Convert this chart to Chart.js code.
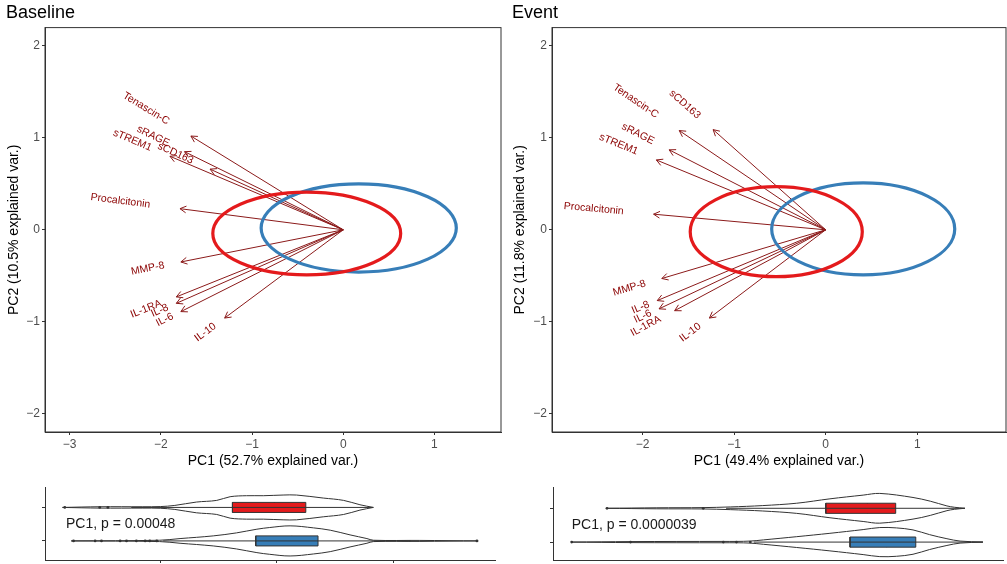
<!DOCTYPE html>
<html>
<head>
<meta charset="utf-8">
<title>PCA biplots</title>
<script src="https://cdn.jsdelivr.net/npm/chart.js@4.4.1/dist/chart.umd.min.js"></script>
<style>
  body { margin: 0; background: #fff; }
  .panel { position: absolute; }
</style>
</head>
<body>
<div class="panel" style="left:0;top:0"><canvas id="biplotBaseline" width="503" height="472"></canvas></div>
<div class="panel" style="left:503px;top:0"><canvas id="biplotEvent" width="504" height="472"></canvas></div>
<div class="panel" style="left:0;top:480px"><canvas id="violinBaseline" width="503" height="84"></canvas></div>
<div class="panel" style="left:503px;top:480px"><canvas id="violinEvent" width="504" height="84"></canvas></div>
<script>
// ---- variable loadings (arrow tips) ----
const variables = ['Tenascin-C', 'sRAGE', 'sTREM1', 'sCD163', 'Procalcitonin', 'MMP-8', 'IL-1RA', 'IL-8', 'IL-6', 'IL-10'];
const baselinePC1 = [-1.67, -1.74, -1.90, -1.46, -1.79, -1.78, -1.83, -1.83, -1.78, -1.30];
const baselinePC2 = [1.02, 0.85, 0.80, 0.66, 0.23, -0.35, -0.73, -0.80, -0.89, -0.96];
const eventPC1 = [-1.60, -1.71, -1.85, -1.23, -1.88, -1.79, -1.65, -1.84, -1.82, -1.27];
const eventPC2 = [1.08, 0.87, 0.76, 1.09, 0.17, -0.53, -0.88, -0.77, -0.86, -0.96];

// ---- group ellipses: [centre PC1, centre PC2, radius PC1, radius PC2] ----
const baselineEllipseRed = [-0.40, -0.04, 1.03, 0.45];
const baselineEllipseBlue = [0.17, 0.02, 1.07, 0.48];
const eventEllipseRed = [-0.54, -0.02, 0.94, 0.49];
const eventEllipseBlue = [0.41, 0.01, 1.00, 0.50];

// ---- axis ticks ----
const biplotYTicks = [-2, -1, 0, 1, 2];
const baselineXTicks = [-3, -2, -1, 0, 1];
const eventXTicks = [-2, -1, 0, 1];

// ---- PC1 violins: profile positions and half widths, box [q1, median, q3], whiskers, outliers ----
const baseRedX = [-3.68, -3.04, -2.3, -2.0, -1.75, -1.38, -1.03, -0.80, -0.52, -0.23, 0.11, 0.34, 0.80, 1.15, 1.43, 1.66];
const baseRedW = [0, 0.02, 0.02, 0.025, 0.06, 0.16, 0.21, 0.32, 0.35, 0.35, 0.37, 0.37, 0.28, 0.21, 0.08, 0];
const baseRedBox = [-0.76, -0.04, 0.50];
const baseRedWhisk = [-2.5, 1.66];
const baseRedOut = [-3.64, -3.04, -2.9];

const baseBlueX = [-3.53, -2.01, -1.66, -1.09, -0.69, -0.34, -0.12, 0.23, 0.63, 0.92, 1.26, 1.55, 1.66, 2.46, 3.46];
const baseBlueW = [0, 0.02, 0.07, 0.15, 0.24, 0.35, 0.40, 0.45, 0.39, 0.32, 0.18, 0.07, 0.02, 0.015, 0];
const baseBlueBox = [-0.36, 0.26, 0.71];
const baseBlueWhisk = [-1.95, 2.3];
const baseBlueOut = [-3.49, -3.12, -3.01, -2.69, -2.58, -2.41, -2.26, -2.18, -2.06, 3.44];

const evRedX = [-3.22, -2.5, -1.83, -1.44, -0.97, -0.48, 0.0, 0.48, 0.72, 1.2, 1.45, 1.69, 1.8, 1.95];
const evRedW = [0, 0.015, 0.02, 0.04, 0.08, 0.15, 0.28, 0.39, 0.44, 0.32, 0.21, 0.07, 0.03, 0];
const evRedBox = [-0.06, 0.54, 0.95];
const evRedWhisk = [-1.5, 1.95];
const evRedOut = [-3.22, -1.83];

const evBlueX = [-3.73, -2.88, -1.54, -1.35, -1.15, -0.96, -0.48, 0.0, 0.48, 0.72, 0.96, 1.20, 1.44, 1.69, 1.88, 2.21];
const evBlueW = [0, 0.015, 0.02, 0.02, 0.03, 0.065, 0.16, 0.26, 0.37, 0.43, 0.42, 0.36, 0.22, 0.1, 0.03, 0];
const evBlueBox = [0.29, 0.82, 1.24];
const evBlueWhisk = [-1.1, 2.21];
const evBlueOut = [-3.73, -2.88, -1.54, -1.35, -1.15];

const baselineXTicksViolin = [-2, 0, 2];

// ---- styles ----
const FONT = "'Liberation Sans', Arial, Helvetica, sans-serif";
const RED = '#E41A1C';
const BLUE = '#377EB8';
const ARROW = '#8B1A1A';
const LABEL = '#8B0000';
const AXIS = '#333333';
const TICK_TEXT = '#4D4D4D';
const HEAD = 7;            // arrowhead length, px
const BOX_HALF = 0.15;     // box half height in row units

Chart.defaults.font.family = FONT;
Chart.defaults.animation = false;

const minus = v => (v < 0 ? '\u2212' + Math.abs(v) : String(v));

// arrowheads, ellipses and rotated variable names
function biplotDecor(ellipses) {
  return {
    id: 'biplotDecor',
    afterDatasetsDraw(chart) {
      const { ctx, scales: { x, y } } = chart;
      ctx.save();
      const tips = chart.data.datasets.map(ds => {
        const x0 = x.getPixelForValue(ds.data[0].x), y0 = y.getPixelForValue(ds.data[0].y);
        const x1 = x.getPixelForValue(ds.data[1].x), y1 = y.getPixelForValue(ds.data[1].y);
        return { x1, y1, ang: Math.atan2(y1 - y0, x1 - x0), label: ds.label };
      });
      ctx.strokeStyle = ARROW;
      ctx.lineWidth = 1;
      tips.forEach(t => {
        ctx.beginPath();
        ctx.moveTo(t.x1 - HEAD * Math.cos(t.ang - 0.5), t.y1 - HEAD * Math.sin(t.ang - 0.5));
        ctx.lineTo(t.x1, t.y1);
        ctx.lineTo(t.x1 - HEAD * Math.cos(t.ang + 0.5), t.y1 - HEAD * Math.sin(t.ang + 0.5));
        ctx.stroke();
      });
      // normal-data ellipses per group
      ctx.lineWidth = 3.2;
      ellipses.forEach(e => {
        const cx = x.getPixelForValue(e.p[0]), cy = y.getPixelForValue(e.p[1]);
        const rx = Math.abs(x.getPixelForValue(e.p[0] + e.p[2]) - cx);
        const ry = Math.abs(y.getPixelForValue(e.p[1] + e.p[3]) - cy);
        ctx.strokeStyle = e.color;
        ctx.beginPath();
        ctx.ellipse(cx, cy, rx, ry, 0, 0, Math.PI * 2);
        ctx.stroke();
      });
      // names sit beyond the tip, rotated along the arrow
      ctx.font = '10.5px ' + FONT;
      ctx.fillStyle = LABEL;
      ctx.textAlign = 'center';
      ctx.textBaseline = 'middle';
      tips.forEach(t => {
        const w = ctx.measureText(t.label).width;
        const dx = Math.cos(t.ang), dy = Math.sin(t.ang);
        ctx.save();
        ctx.translate(t.x1 + w * dx, t.y1 + w * dy);
        ctx.rotate(dx < 0 ? t.ang + Math.PI : t.ang);
        ctx.fillText(t.label, 0, 0);
        ctx.restore();
      });
      ctx.restore();
    },
    afterDraw(chart) {
      const { ctx, chartArea: a } = chart;
      ctx.save();
      ctx.strokeStyle = AXIS;
      ctx.lineWidth = 1;
      ctx.strokeRect(a.left, a.top, a.right - a.left, a.bottom - a.top);
      ctx.restore();
    }
  };
}

function biplot(id, cfg) {
  const datasets = variables.map((name, i) => ({
    label: name,
    data: [{ x: 0, y: 0 }, { x: cfg.pc1[i], y: cfg.pc2[i] }],
    showLine: true,
    borderColor: ARROW,
    borderWidth: 1,
    pointRadius: 0
  }));
  new Chart(document.getElementById(id), {
    type: 'scatter',
    data: { datasets },
    options: {
      responsive: false,
      layout: { padding: { left: cfg.padLeft, right: cfg.padRight, top: 0, bottom: 0 } },
      plugins: {
        legend: { display: false },
        tooltip: { enabled: false },
        title: {
          display: true, text: cfg.title, align: 'start', color: '#000',
          font: { size: 18, weight: 'normal' }, padding: { top: 2, bottom: 4 }
        }
      },
      scales: {
        x: {
          type: 'linear', min: cfg.xMin, max: cfg.xMax,
          afterBuildTicks: s => { s.ticks = cfg.xTicks.map(v => ({ value: v })); },
          ticks: { color: TICK_TEXT, font: { size: 12 }, padding: 2, callback: minus },
          grid: { drawOnChartArea: false, tickLength: 3, color: AXIS },
          border: { color: AXIS },
          title: { display: true, text: cfg.xTitle, color: '#000', font: { size: 14 }, padding: { top: 0, bottom: 2 } },
          afterFit: s => { s.height = 40; }
        },
        y: {
          type: 'linear', min: -2.2, max: 2.2,
          afterBuildTicks: s => { s.ticks = biplotYTicks.map(v => ({ value: v })); },
          ticks: { color: TICK_TEXT, font: { size: 12 }, padding: 2, callback: minus },
          grid: { drawOnChartArea: false, tickLength: 3, color: AXIS },
          border: { color: AXIS },
          title: { display: true, text: cfg.yTitle, color: '#000', font: { size: 14 }, padding: { top: 0, bottom: 0 } },
          afterFit: s => { s.width = cfg.yWidth; }
        }
      }
    },
    plugins: [biplotDecor(cfg.ellipses)]
  });
}

biplot('biplotBaseline', {
  title: 'Baseline', pc1: baselinePC1, pc2: baselinePC2,
  xMin: -3.27, xMax: 1.73, xTicks: baselineXTicks,
  xTitle: 'PC1 (52.7% explained var.)', yTitle: 'PC2 (10.5% explained var.)',
  padLeft: 6, yWidth: 39, padRight: 2,
  ellipses: [{ p: baselineEllipseBlue, color: BLUE }, { p: baselineEllipseRed, color: RED }]
});

biplot('biplotEvent', {
  title: 'Event', pc1: eventPC1, pc2: eventPC2,
  xMin: -2.99, xMax: 1.97, xTicks: eventXTicks,
  xTitle: 'PC1 (49.4% explained var.)', yTitle: 'PC2 (11.8% explained var.)',
  padLeft: 9, yWidth: 40, padRight: 1,
  ellipses: [{ p: eventEllipseBlue, color: BLUE }, { p: eventEllipseRed, color: RED }]
});

// one horizontal violin + boxplot row
function violinRow(row, xs, ws, box, whisk, out, color) {
  const outline = xs.map((v, i) => ({ x: v, y: row + ws[i] }))
    .concat(xs.map((v, i) => ({ x: v, y: row - ws[i] })).reverse());
  outline.push(outline[0]);
  const [q1, med, q3] = box;
  return [
    { data: outline, borderColor: AXIS, borderWidth: 1, tension: 0.35, fill: false, pointRadius: 0 },
    { data: [{ x: whisk[0], y: row }, { x: whisk[1], y: row }], borderColor: AXIS, borderWidth: 1, pointRadius: 0 },
    {
      data: [{ x: q1, y: row - BOX_HALF }, { x: q3, y: row - BOX_HALF }, { x: q3, y: row + BOX_HALF },
             { x: q1, y: row + BOX_HALF }, { x: q1, y: row - BOX_HALF }],
      borderColor: AXIS, borderWidth: 1, backgroundColor: color, fill: 'shape', tension: 0, pointRadius: 0
    },
    { data: [{ x: med, y: row - BOX_HALF }, { x: med, y: row + BOX_HALF }], borderColor: AXIS, borderWidth: 1, pointRadius: 0 },
    {
      data: out.map(v => ({ x: v, y: row })), showLine: false, pointRadius: 1.4,
      pointBackgroundColor: AXIS, pointBorderWidth: 0
    }
  ];
}

function violinNote(text, xv, yv) {
  return {
    id: 'violinNote',
    afterDraw(chart) {
      const { ctx, scales: { x, y } } = chart;
      ctx.save();
      ctx.font = '14px ' + FONT;
      ctx.fillStyle = '#1a1a1a';
      ctx.textAlign = 'left';
      ctx.textBaseline = 'middle';
      ctx.fillText(text, x.getPixelForValue(xv), y.getPixelForValue(yv));
      ctx.restore();
    }
  };
}

function violin(id, cfg) {
  new Chart(document.getElementById(id), {
    type: 'line',
    data: { datasets: violinRow(2, ...cfg.red, RED).concat(violinRow(1, ...cfg.blue, BLUE)) },
    options: {
      responsive: false,
      layout: { padding: { left: 0, right: cfg.padRight, top: 7, bottom: 0 } },
      plugins: { legend: { display: false }, tooltip: { enabled: false } },
      scales: {
        x: {
          type: 'linear', min: cfg.xMin, max: cfg.xMax,
          afterBuildTicks: s => { s.ticks = cfg.xTicks.map(v => ({ value: v })); },
          ticks: { display: false },
          grid: { drawOnChartArea: false, drawTicks: cfg.xTicks.length > 0, tickLength: 3, color: AXIS },
          border: { color: AXIS },
          afterFit: s => { s.height = cfg.xHeight; }
        },
        y: {
          type: 'linear', min: cfg.yMin, max: cfg.yMax,
          afterBuildTicks: s => { s.ticks = [{ value: 1 }, { value: 2 }]; },
          ticks: { display: false },
          grid: { drawOnChartArea: false, tickLength: 3, color: AXIS },
          border: { color: AXIS },
          afterFit: s => { s.width = cfg.yWidth; }
        }
      }
    },
    plugins: [violinNote(cfg.note, cfg.noteX, 1.49)]
  });
}

violin('violinBaseline', {
  red: [baseRedX, baseRedW, baseRedBox, baseRedWhisk, baseRedOut],
  blue: [baseBlueX, baseBlueW, baseBlueBox, baseBlueWhisk, baseBlueOut],
  xMin: -3.98, xMax: 3.75, xTicks: baselineXTicksViolin,
  yMin: 0.43, yMax: 2.61, yWidth: 45, xHeight: 3, padRight: 8,
  note: 'PC1, p = 0.00048', noteX: -3.62
});

violin('violinEvent', {
  red: [evRedX, evRedW, evRedBox, evRedWhisk, evRedOut],
  blue: [evBlueX, evBlueW, evBlueBox, evBlueWhisk, evBlueOut],
  xMin: -4, xMax: 2.5, xTicks: [],
  yMin: 0.47, yMax: 2.63, yWidth: 50, xHeight: 4, padRight: 4,
  note: 'PC1, p = 0.0000039', noteX: -3.73
});
</script>
</body>
</html>
